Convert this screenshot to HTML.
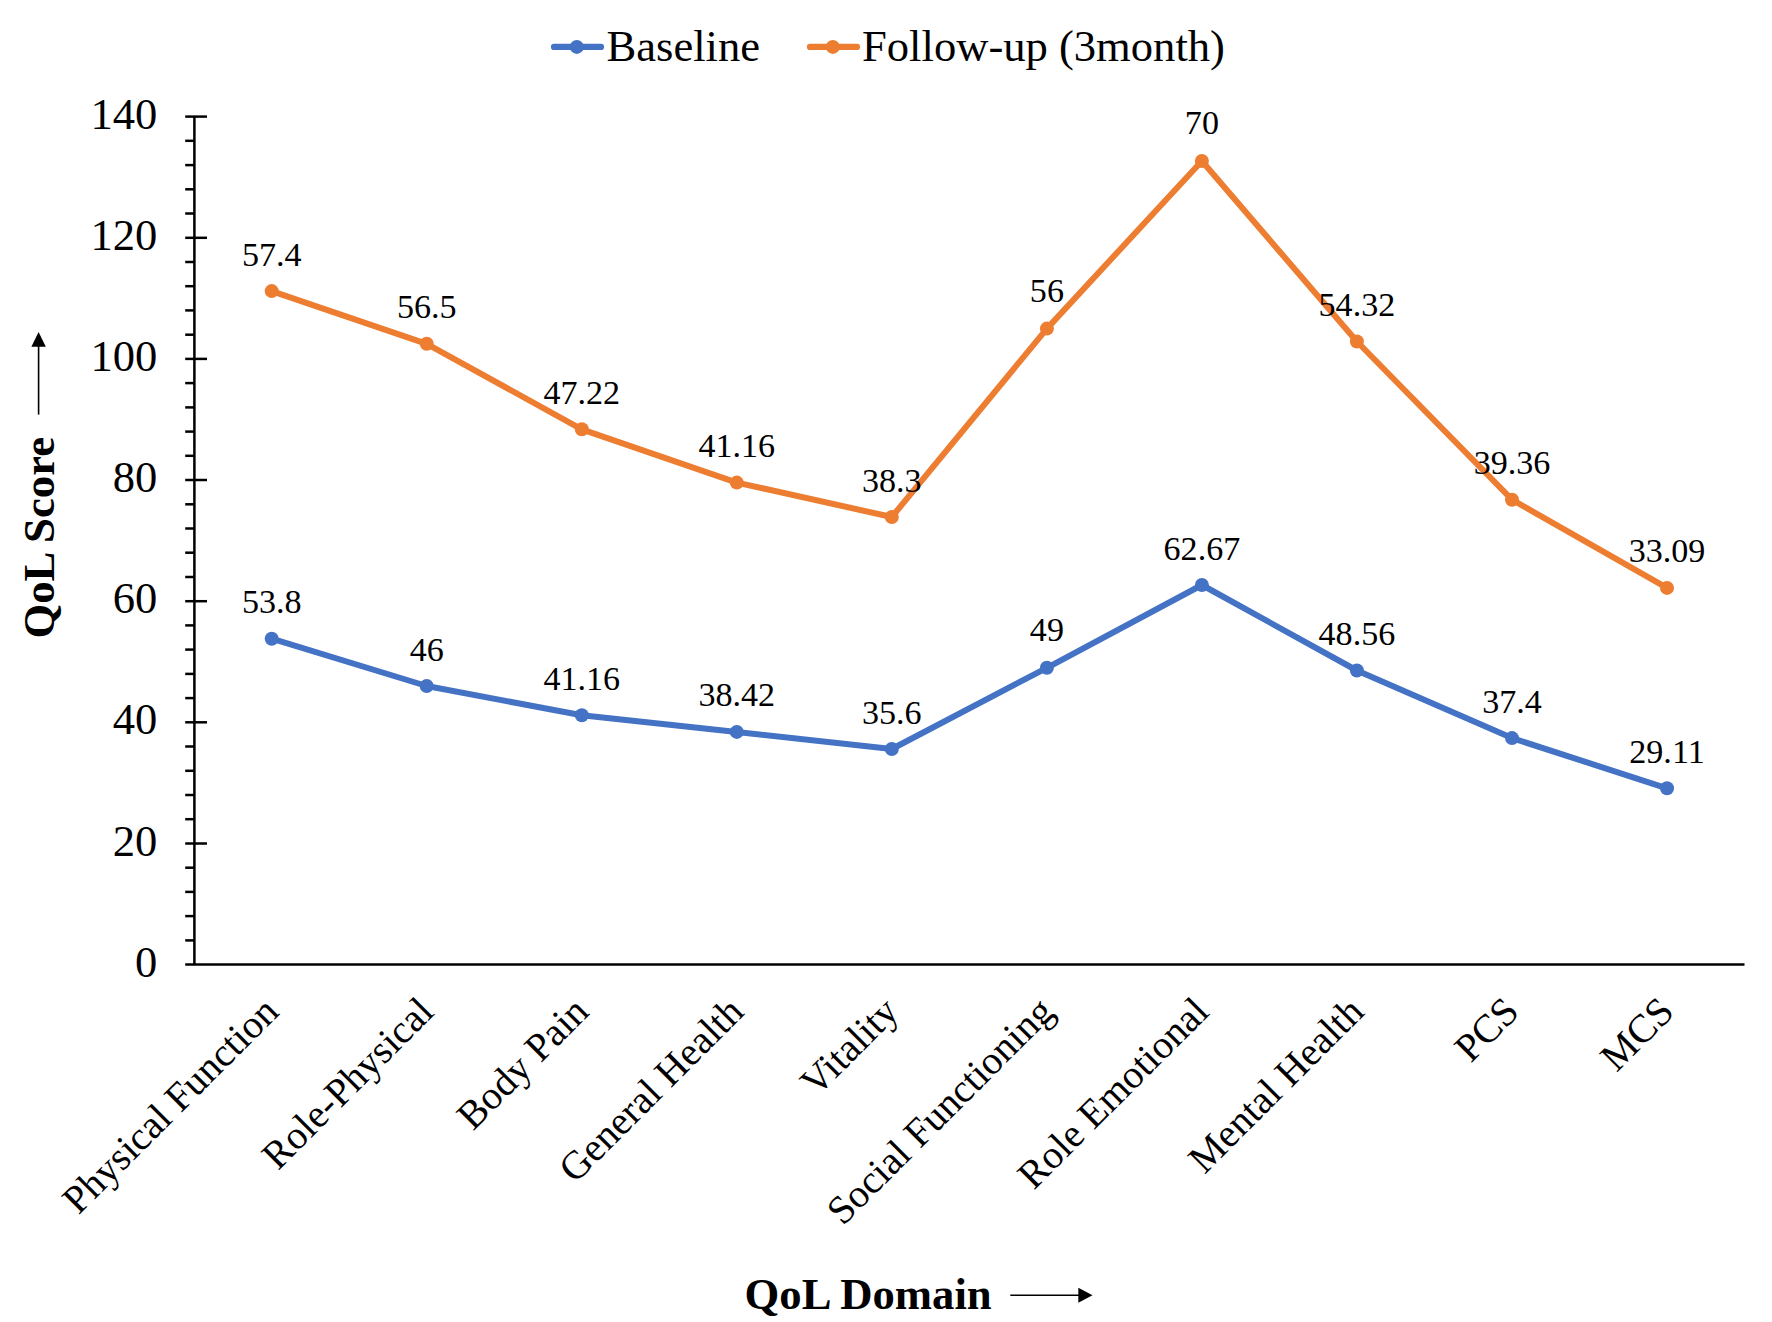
<!DOCTYPE html>
<html><head><meta charset="utf-8"><title>QoL chart</title>
<style>html,body{margin:0;padding:0;background:#fff;}body{width:1772px;height:1322px;overflow:hidden;}svg{display:block;}text{font-family:"Liberation Serif",serif;fill:#000;}</style></head><body>
<svg width="1772" height="1322" viewBox="0 0 1772 1322">
<rect x="0" y="0" width="1772" height="1322" fill="#ffffff"/>
<g stroke="#000" stroke-width="2.5" fill="none">
<line x1="194.4" y1="116.6" x2="194.4" y2="964.6"/>
<line x1="185.2" y1="964.6" x2="1744.5" y2="964.6"/>
<line x1="185.2" y1="940.4" x2="194.4" y2="940.4"/>
<line x1="185.2" y1="916.1" x2="194.4" y2="916.1"/>
<line x1="185.2" y1="891.9" x2="194.4" y2="891.9"/>
<line x1="185.2" y1="867.7" x2="194.4" y2="867.7"/>
<line x1="185.2" y1="843.5" x2="207" y2="843.5"/>
<line x1="185.2" y1="819.2" x2="194.4" y2="819.2"/>
<line x1="185.2" y1="795.0" x2="194.4" y2="795.0"/>
<line x1="185.2" y1="770.8" x2="194.4" y2="770.8"/>
<line x1="185.2" y1="746.5" x2="194.4" y2="746.5"/>
<line x1="185.2" y1="722.3" x2="207" y2="722.3"/>
<line x1="185.2" y1="698.1" x2="194.4" y2="698.1"/>
<line x1="185.2" y1="673.9" x2="194.4" y2="673.9"/>
<line x1="185.2" y1="649.6" x2="194.4" y2="649.6"/>
<line x1="185.2" y1="625.4" x2="194.4" y2="625.4"/>
<line x1="185.2" y1="601.2" x2="207" y2="601.2"/>
<line x1="185.2" y1="577.0" x2="194.4" y2="577.0"/>
<line x1="185.2" y1="552.7" x2="194.4" y2="552.7"/>
<line x1="185.2" y1="528.5" x2="194.4" y2="528.5"/>
<line x1="185.2" y1="504.3" x2="194.4" y2="504.3"/>
<line x1="185.2" y1="480.0" x2="207" y2="480.0"/>
<line x1="185.2" y1="455.8" x2="194.4" y2="455.8"/>
<line x1="185.2" y1="431.6" x2="194.4" y2="431.6"/>
<line x1="185.2" y1="407.4" x2="194.4" y2="407.4"/>
<line x1="185.2" y1="383.1" x2="194.4" y2="383.1"/>
<line x1="185.2" y1="358.9" x2="207" y2="358.9"/>
<line x1="185.2" y1="334.7" x2="194.4" y2="334.7"/>
<line x1="185.2" y1="310.4" x2="194.4" y2="310.4"/>
<line x1="185.2" y1="286.2" x2="194.4" y2="286.2"/>
<line x1="185.2" y1="262.0" x2="194.4" y2="262.0"/>
<line x1="185.2" y1="237.8" x2="207" y2="237.8"/>
<line x1="185.2" y1="213.5" x2="194.4" y2="213.5"/>
<line x1="185.2" y1="189.3" x2="194.4" y2="189.3"/>
<line x1="185.2" y1="165.1" x2="194.4" y2="165.1"/>
<line x1="185.2" y1="140.8" x2="194.4" y2="140.8"/>
<line x1="185.2" y1="116.6" x2="207" y2="116.6"/>
</g>
<g font-size="44.6" text-anchor="end">
<text x="157.3" y="976.6">0</text>
<text x="157.3" y="855.5">20</text>
<text x="157.3" y="734.3">40</text>
<text x="157.3" y="613.2">60</text>
<text x="157.3" y="492.0">80</text>
<text x="157.3" y="370.9">100</text>
<text x="157.3" y="249.8">120</text>
<text x="157.3" y="128.6">140</text>
</g>
<polyline points="271.7,638.7 426.7,686.0 581.8,715.3 736.8,731.9 891.8,749.0 1046.9,667.8 1201.9,585.0 1356.9,670.5 1512.0,738.1 1667.0,788.3" fill="none" stroke="#4472C4" stroke-width="6" stroke-linejoin="round" stroke-linecap="round"/>
<circle cx="271.7" cy="638.7" r="7" fill="#4472C4"/>
<circle cx="426.7" cy="686.0" r="7" fill="#4472C4"/>
<circle cx="581.8" cy="715.3" r="7" fill="#4472C4"/>
<circle cx="736.8" cy="731.9" r="7" fill="#4472C4"/>
<circle cx="891.8" cy="749.0" r="7" fill="#4472C4"/>
<circle cx="1046.9" cy="667.8" r="7" fill="#4472C4"/>
<circle cx="1201.9" cy="585.0" r="7" fill="#4472C4"/>
<circle cx="1356.9" cy="670.5" r="7" fill="#4472C4"/>
<circle cx="1512.0" cy="738.1" r="7" fill="#4472C4"/>
<circle cx="1667.0" cy="788.3" r="7" fill="#4472C4"/>
<polyline points="271.7,291.1 426.7,343.8 581.8,429.3 736.8,482.6 891.8,517.0 1046.9,328.6 1201.9,161.0 1356.9,341.5 1512.0,499.7 1667.0,587.9" fill="none" stroke="#ED7D31" stroke-width="6" stroke-linejoin="round" stroke-linecap="round"/>
<circle cx="271.7" cy="291.1" r="7" fill="#ED7D31"/>
<circle cx="426.7" cy="343.8" r="7" fill="#ED7D31"/>
<circle cx="581.8" cy="429.3" r="7" fill="#ED7D31"/>
<circle cx="736.8" cy="482.6" r="7" fill="#ED7D31"/>
<circle cx="891.8" cy="517.0" r="7" fill="#ED7D31"/>
<circle cx="1046.9" cy="328.6" r="7" fill="#ED7D31"/>
<circle cx="1201.9" cy="161.0" r="7" fill="#ED7D31"/>
<circle cx="1356.9" cy="341.5" r="7" fill="#ED7D31"/>
<circle cx="1512.0" cy="499.7" r="7" fill="#ED7D31"/>
<circle cx="1667.0" cy="587.9" r="7" fill="#ED7D31"/>
<g font-size="34.1" text-anchor="middle">
<text x="271.7" y="613.2">53.8</text>
<text x="426.7" y="660.5">46</text>
<text x="581.8" y="689.8">41.16</text>
<text x="736.8" y="706.4">38.42</text>
<text x="891.8" y="723.5">35.6</text>
<text x="1046.9" y="641.0">49</text>
<text x="1201.9" y="559.5">62.67</text>
<text x="1356.9" y="645.0">48.56</text>
<text x="1512.0" y="712.6">37.4</text>
<text x="1667.0" y="762.8">29.11</text>
<text x="271.7" y="265.6">57.4</text>
<text x="426.7" y="318.3">56.5</text>
<text x="581.8" y="403.8">47.22</text>
<text x="736.8" y="457.1">41.16</text>
<text x="891.8" y="491.5">38.3</text>
<text x="1046.9" y="301.8">56</text>
<text x="1201.9" y="134.2">70</text>
<text x="1356.9" y="316.0">54.32</text>
<text x="1512.0" y="474.2">39.36</text>
<text x="1667.0" y="562.4">33.09</text>
</g>
<g font-size="39.7" text-anchor="end">
<text transform="translate(280.5,1013.7) rotate(-45)" x="0" y="0">Physical Function</text>
<text transform="translate(435.5,1013.7) rotate(-45)" x="0" y="0">Role-Physical</text>
<text transform="translate(590.6,1013.7) rotate(-45)" x="0" y="0">Body Pain</text>
<text transform="translate(745.6,1013.7) rotate(-45)" x="0" y="0">General Health</text>
<text transform="translate(900.6,1013.7) rotate(-45)" x="0" y="0">Vitality</text>
<text transform="translate(1055.7,1013.7) rotate(-45)" x="0" y="0">Social Functioning</text>
<text transform="translate(1210.7,1013.7) rotate(-45)" x="0" y="0">Role Emotional</text>
<text transform="translate(1365.7,1013.7) rotate(-45)" x="0" y="0">Mental Health</text>
<text transform="translate(1520.8,1013.7) rotate(-45)" x="0" y="0">PCS</text>
<text transform="translate(1675.8,1013.7) rotate(-45)" x="0" y="0">MCS</text>
</g>
<g>
<line x1="554" y1="46.9" x2="601" y2="46.9" stroke="#4472C4" stroke-width="6.2" stroke-linecap="round"/>
<circle cx="576.8" cy="46.9" r="7" fill="#4472C4"/>
<text x="606.5" y="61" font-size="44.6">Baseline</text>
<line x1="810" y1="46.9" x2="857" y2="46.9" stroke="#ED7D31" stroke-width="6.2" stroke-linecap="round"/>
<circle cx="832.8" cy="46.9" r="7" fill="#ED7D31"/>
<text x="862" y="61" font-size="44.6">Follow-up (3month)</text>
</g>
<text x="744.6" y="1308.5" font-size="44.7" font-weight="bold">QoL Domain</text>
<line x1="1010.3" y1="1295.3" x2="1080" y2="1295.3" stroke="#000" stroke-width="1.6"/>
<polygon points="1078.3,1287.8 1092.5,1295.3 1078.3,1302.8" fill="#000"/>
<text transform="translate(54.2,638.5) rotate(-90)" x="0" y="0" font-size="44.7" font-weight="bold">QoL Score</text>
<line x1="38.6" y1="414.6" x2="38.6" y2="345" stroke="#000" stroke-width="1.6"/>
<polygon points="31.4,346.7 38.6,332 45.8,346.7" fill="#000"/>
</svg></body></html>
